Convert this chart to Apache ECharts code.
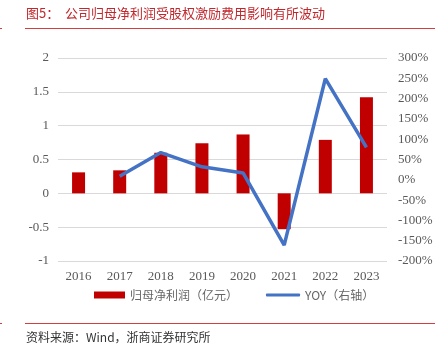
<!DOCTYPE html>
<html><head><meta charset="utf-8">
<script src="https://cdn.jsdelivr.net/npm/echarts@6/dist/echarts.min.js"></script>
<style>html,body{margin:0;padding:0;background:#fff}#c{width:446px;height:356px}</style>
</head><body><div id="c"></div>
<script>
var categories = ['2016','2017','2018','2019','2020','2021','2022','2023'];
var profit = [0.31, 0.34, 0.60, 0.74, 0.87, -0.53, 0.79, 1.42];
var yoy = [null, 9, 67, 32, 17, -161, 249, 80];
var leftTicks = {min: -1, max: 2, interval: 0.5};
var rightTicks = {min: -200, max: 300, interval: 50};

var chart = echarts.init(document.getElementById('c'), null, {renderer: 'canvas'});
var serif = '"Liberation Serif","Noto Serif CJK SC","Noto Sans CJK SC",serif';
var cjk = '"Noto Sans CJK SC",sans-serif';
var legendText = {color: '#666', fontSize: 12, fontFamily: cjk};
chart.setOption({
  animation: false,
  grid: {left: 58, right: 59, top: 58, bottom: 95},
  graphic: [
    {type: 'text', left: 26, top: 7, style: {text: '图5：  公司归母净利润受股权激励费用影响有所波动', fill: '#C0282D', font: '13px ' + cjk}},
    {type: 'rect', shape: {x: 25, y: 28, width: 410, height: 1}, style: {fill: '#D04040'}},
    {type: 'rect', shape: {x: 0, y: 28, width: 2, height: 1}, style: {fill: '#D04040'}},
    {type: 'rect', shape: {x: 25, y: 323, width: 410, height: 1}, style: {fill: '#D04040'}},
    {type: 'rect', shape: {x: 0, y: 323, width: 2, height: 1}, style: {fill: '#D04040'}},
    {type: 'text', left: 26, top: 331, style: {text: '资料来源：Wind，浙商证券研究所', fill: '#333', font: '12px ' + cjk}}
  ],
  legend: [
    {left: 89, top: 284, itemWidth: 31, itemHeight: 7, textStyle: legendText,
     data: [{name: '归母净利润（亿元）', icon: 'rect'}]},
    {left: 261, top: 284, itemWidth: 34, itemHeight: 3, itemGap: 2, textStyle: legendText,
     data: [{name: 'YOY（右轴）', icon: 'roundRect'}]}
  ],
  xAxis: {
    type: 'category', data: categories,
    axisLine: {show: false}, axisTick: {show: false},
    axisLabel: {color: '#595959', fontSize: 13, fontFamily: serif, margin: 9}
  },
  yAxis: [
    {type: 'value', min: leftTicks.min, max: leftTicks.max, interval: leftTicks.interval,
     axisLine: {show: false}, axisTick: {show: false},
     axisLabel: {color: '#595959', fontSize: 13, fontFamily: serif, margin: 9},
     splitLine: {lineStyle: {color: '#D9D9D9', width: 1}}},
    {type: 'value', min: rightTicks.min, max: rightTicks.max, interval: rightTicks.interval,
     axisLine: {show: false}, axisTick: {show: false}, splitLine: {show: false},
     axisLabel: {color: '#595959', fontSize: 13, fontFamily: serif, margin: 11, formatter: '{value}%'}}
  ],
  series: [
    {name: '归母净利润（亿元）', type: 'bar', data: profit, barWidth: 13, itemStyle: {color: '#C00000'}, yAxisIndex: 0},
    {name: 'YOY（右轴）', type: 'line', data: yoy, yAxisIndex: 1, symbol: 'none',
     lineStyle: {color: '#4472C4', width: 3.5}, itemStyle: {color: '#4472C4'}}
  ]
});
</script></body></html>
